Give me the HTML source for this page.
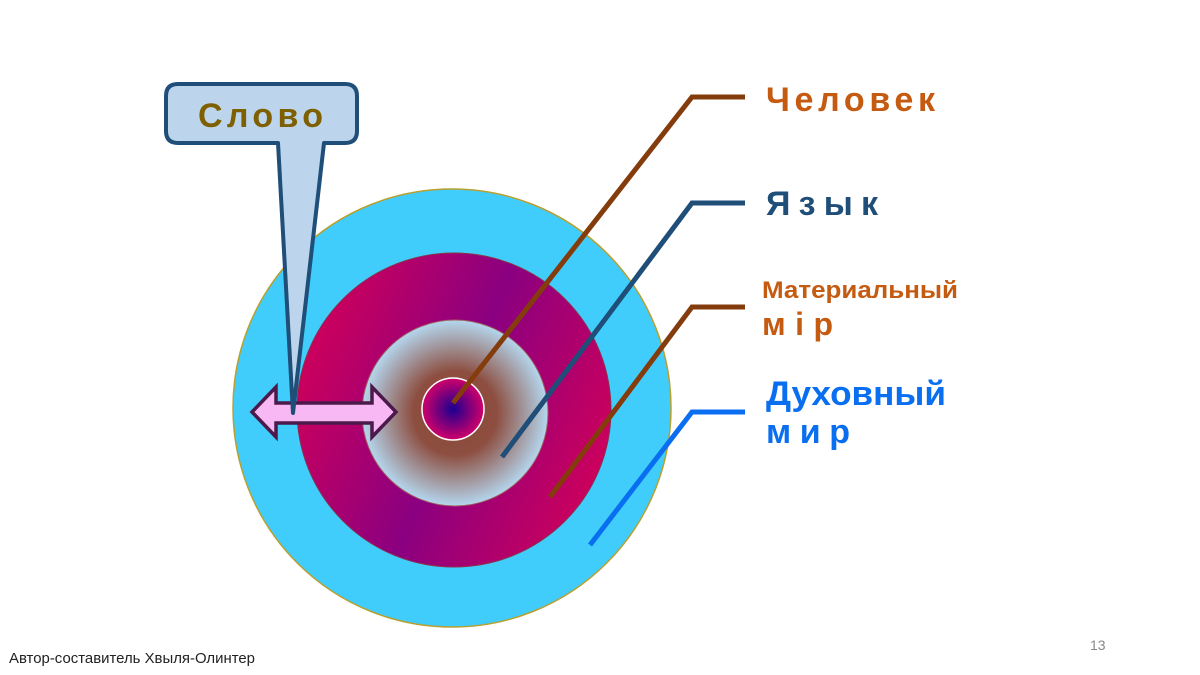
<!DOCTYPE html>
<html><head><meta charset="utf-8"><style>
html,body{margin:0;padding:0;background:#fff;}
svg{display:block;}
text{font-family:"Liberation Sans",sans-serif;font-weight:bold;}
</style></head><body>
<svg width="1200" height="675" viewBox="0 0 1200 675" xmlns="http://www.w3.org/2000/svg">
<defs>
<linearGradient id="red" x1="0" y1="0.3" x2="1" y2="0.7">
<stop offset="0" stop-color="#d0005a"/><stop offset="0.5" stop-color="#8a0080"/><stop offset="1" stop-color="#d0005a"/>
</linearGradient>
<radialGradient id="lb" cx="0.5" cy="0.5" r="0.5">
<stop offset="0" stop-color="#8a4a3a"/><stop offset="0.45" stop-color="#8d4e40"/><stop offset="1" stop-color="#b4d6ee"/>
</radialGradient>
<radialGradient id="core" cx="0.5" cy="0.5" r="0.5">
<stop offset="0" stop-color="#1a0090"/><stop offset="1" stop-color="#d0006a"/>
</radialGradient>
</defs>
<circle cx="452" cy="408" r="219" fill="#40cdfb" stroke="#b8a030" stroke-width="1.5"/>
<circle cx="454" cy="410" r="157" fill="url(#red)" stroke="#8a3050" stroke-width="1"/>
<circle cx="455" cy="413" r="93" fill="url(#lb)" stroke="#a06060" stroke-width="1"/>
<circle cx="453" cy="409" r="31" fill="url(#core)" stroke="#fff" stroke-width="1.5"/>
<polyline points="453,403 692,97 745,97" fill="none" stroke="#843c0c" stroke-width="5"/>
<polyline points="502,457 692,203 745,203" fill="none" stroke="#1f4e79" stroke-width="5"/>
<polyline points="550,497 692,307 745,307" fill="none" stroke="#843c0c" stroke-width="5"/>
<polyline points="590,545 692,412 745,412" fill="none" stroke="#0a6ef0" stroke-width="5"/>
<polygon points="252,412 276,387 276,403 372,403 372,387 396,412 372,437 372,423 276,423 276,437" fill="#f7b8f4" stroke="#4b1a4a" stroke-width="3.5" stroke-linejoin="miter"/>
<path d="M178,84 H345 Q357,84 357,96 V131 Q357,143 345,143 H324 L293,413 L278,143 H178 Q166,143 166,131 V96 Q166,84 178,84 Z" fill="#bcd5ec" stroke="#1f4e79" stroke-width="4" stroke-linejoin="round"/>
<text x="198" y="127" font-size="34" fill="#7f6000" textLength="125" lengthAdjust="spacing">Слово</text>
<text x="766" y="111" font-size="34" fill="#c55a11" textLength="169" lengthAdjust="spacing">Человек</text>
<text x="766" y="215" font-size="34" fill="#1f4e79" textLength="112" lengthAdjust="spacing">Язык</text>
<text x="762" y="298" font-size="24" fill="#c55a11" textLength="196" lengthAdjust="spacingAndGlyphs">Материальный</text>
<text x="762" y="335" font-size="32" fill="#c55a11" textLength="71" lengthAdjust="spacing">мір</text>
<text x="766" y="405" font-size="34" fill="#0a6ef0" textLength="180" lengthAdjust="spacingAndGlyphs">Духовный</text>
<text x="766" y="443" font-size="34" fill="#0a6ef0" textLength="84" lengthAdjust="spacing">мир</text>
<text x="1090" y="650" font-size="14" style="font-weight:normal" fill="#888">13</text>
<text x="9" y="663" font-size="14.5" style="font-weight:normal" fill="#222" textLength="246" lengthAdjust="spacingAndGlyphs">Автор-составитель Хвыля-Олинтер</text>
</svg>
</body></html>
